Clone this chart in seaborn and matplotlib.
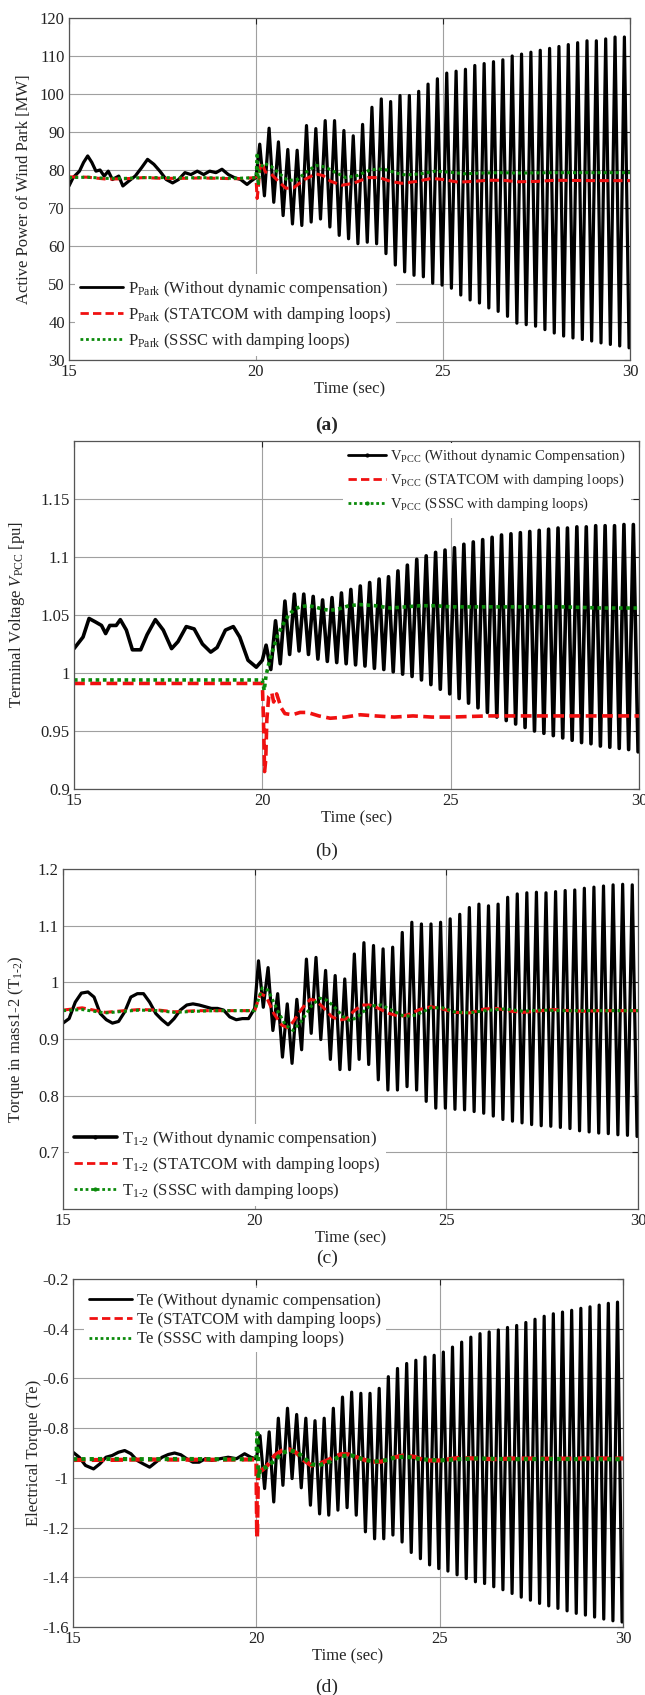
import numpy as np
import pandas as pd
import matplotlib
matplotlib.use("Agg")
import matplotlib.pyplot as plt
import seaborn as sns
from matplotlib.lines import Line2D

# ---------------------------------------------------------------------------
# Data (time in seconds)
# ---------------------------------------------------------------------------
# Oscillation after the disturbance at t = 20 s: one maximum and one minimum
# per 0.25 s cycle of the uncompensated response.
CYCLE = 0.25

# (a) Active power of the wind park [MW]
p_pre_t = [15.0, 15.11, 15.28, 15.39, 15.50, 15.61, 15.72, 15.83, 15.94, 16.05, 16.16,
           16.33, 16.44, 16.60, 16.77, 16.94, 17.10, 17.27, 17.43, 17.60, 17.77, 17.93,
           18.10, 18.26, 18.43, 18.60, 18.76, 18.93, 19.09, 19.26, 19.42, 19.59, 19.76,
           19.87, 20.0]
p_pre_v = [75.8, 78.0, 79.7, 82.0, 83.7, 82.0, 79.7, 80.0, 78.4, 79.7, 77.5,
           78.4, 75.8, 77.1, 78.4, 80.6, 82.8, 81.5, 79.7, 77.5, 76.6, 77.5,
           79.3, 78.8, 79.7, 78.8, 79.7, 79.3, 80.2, 78.8, 78.0, 77.5, 76.2,
           77.1, 78.0]
p_tops = [86.8, 91.0, 87.4, 85.4, 85.2, 91.7, 90.9, 93.0, 93.0, 90.4,
          89.0, 92.0, 96.5, 98.7, 98.0, 99.6, 99.6, 100.7, 102.6, 104.0,
          105.5, 106.0, 106.5, 107.5, 108.0, 108.5, 109.0, 110.0, 110.5, 111.0,
          111.5, 112.0, 112.5, 113.0, 113.5, 114.0, 114.0, 114.5, 115.0, 115.0]
p_bottoms = [73.2, 71.5, 68.0, 65.8, 65.4, 66.3, 67.1, 65.0, 62.8, 61.9,
             60.6, 61.0, 60.6, 58.0, 55.0, 53.2, 52.3, 51.9, 50.2, 49.7,
             48.9, 47.1, 45.8, 45.0, 43.7, 42.8, 41.5, 39.7, 39.3, 38.9,
             38.0, 37.1, 36.3, 35.8, 35.4, 35.0, 34.5, 34.1, 33.7, 33.2]
p_statcom_t = [15, 15.5, 16, 16.5, 17, 17.5, 18, 18.5, 19, 19.5, 20.0, 20.03, 20.06, 20.1,
               20.15, 20.25, 20.4, 20.6, 20.8, 21.0, 21.3, 21.6, 21.8, 22.0, 22.3, 22.6,
               23.0, 23.3, 23.6, 23.9, 24.3, 24.7, 25.0, 25.4, 25.8, 26.2, 26.6, 27.0,
               27.5, 28.0, 29.0, 30.0]
p_statcom_v = [78.2, 78.1, 77.6, 77.7, 78.0, 77.8, 77.8, 77.9, 77.8, 77.7, 78.0, 72.5, 75.0, 80.0,
               82.0, 79.5, 79.0, 77.0, 75.2, 75.3, 77.5, 79.0, 78.5, 77.0, 76.0, 76.5,
               78.0, 78.0, 77.0, 76.5, 77.0, 77.8, 77.5, 76.8, 77.0, 77.3, 77.3, 76.9,
               77.0, 77.3, 77.2, 77.2]
p_sssc_t = [15, 15.5, 16, 16.5, 17, 17.5, 18, 18.5, 19, 19.5, 20.0, 20.03, 20.06, 20.1,
            20.2, 20.4, 20.6, 20.85, 21.1, 21.35, 21.6, 21.85, 22.1, 22.4, 22.7, 23.0,
            23.25, 23.5, 23.75, 24.0, 24.4, 24.8, 25.2, 25.6, 26.0, 26.5, 27.0, 28.0,
            29.0, 30.0]
p_sssc_v = [78.0, 78.1, 77.8, 77.8, 78.0, 78.0, 77.9, 78.0, 77.9, 77.8, 78.0, 84.5, 76.0, 80.0,
            81.8, 81.0, 79.3, 77.2, 77.5, 79.5, 81.2, 80.8, 79.5, 78.0, 78.5, 79.8,
            80.3, 80.0, 79.2, 78.7, 79.0, 79.7, 79.4, 79.0, 79.2, 79.3, 79.2, 79.3,
            79.3, 79.3]

# (b) Terminal voltage V_PCC [pu]
v_pre_t = [15.0, 15.24, 15.40, 15.57, 15.73, 15.84, 15.95, 16.12, 16.23, 16.39,
           16.55, 16.77, 16.94, 17.16, 17.37, 17.59, 17.76, 17.98, 18.19, 18.41,
           18.63, 18.80, 19.02, 19.23, 19.40, 19.62, 19.84, 20.0]
v_pre_v = [1.021, 1.031, 1.047, 1.044, 1.041, 1.034, 1.041, 1.041, 1.046, 1.037,
           1.020, 1.020, 1.033, 1.046, 1.037, 1.021, 1.027, 1.040, 1.038, 1.025,
           1.018, 1.022, 1.037, 1.040, 1.031, 1.011, 1.005, 1.011]
v_tops = [1.024, 1.045, 1.062, 1.068, 1.068, 1.066, 1.063, 1.065, 1.069, 1.072,
          1.075, 1.078, 1.081, 1.083, 1.088, 1.093, 1.098, 1.101, 1.104, 1.106,
          1.108, 1.111, 1.113, 1.115, 1.117, 1.119, 1.120, 1.121, 1.122, 1.123,
          1.124, 1.125, 1.125, 1.126, 1.126, 1.127, 1.127, 1.127, 1.128, 1.128]
v_bottoms = [1.003, 1.008, 1.016, 1.019, 1.016, 1.012, 1.010, 1.009, 1.008, 1.007,
             1.006, 1.004, 1.003, 1.001, 0.999, 0.997, 0.994, 0.990, 0.986, 0.982,
             0.978, 0.974, 0.970, 0.966, 0.962, 0.959, 0.956, 0.953, 0.950, 0.948,
             0.946, 0.944, 0.942, 0.940, 0.939, 0.937, 0.936, 0.935, 0.934, 0.932]
v_statcom_t = [15, 16, 17, 18, 19, 20.0, 20.03, 20.06, 20.09, 20.12, 20.17, 20.25, 20.3,
               20.38, 20.5, 20.6, 20.8, 21.0, 21.2, 21.5, 21.8, 22.2, 22.6, 23.0, 23.5,
               24.0, 24.5, 25.0, 26.0, 27.0, 28.0, 29.0, 30.0]
v_statcom_v = [0.991, 0.991, 0.991, 0.991, 0.991, 0.991, 0.960, 0.915, 0.925, 0.960, 0.980,
               0.983, 0.975, 0.982, 0.970, 0.965, 0.964, 0.966, 0.966, 0.963, 0.961, 0.962,
               0.964, 0.963, 0.962, 0.963, 0.962, 0.962, 0.963, 0.963, 0.963, 0.963, 0.963]
v_sssc_t = [15, 16, 17, 18, 19, 20.0, 20.05, 20.1, 20.2, 20.3, 20.4, 20.55, 20.7, 20.85,
            21.0, 21.2, 21.4, 21.6, 21.8, 22.0, 22.3, 22.6, 23.0, 23.4, 23.8, 24.2, 24.6,
            25.0, 26.0, 27.0, 28.0, 29.0, 30.0]
v_sssc_v = [0.994, 0.994, 0.994, 0.994, 0.994, 0.994, 0.985, 0.998, 1.012, 1.022, 1.032,
            1.042, 1.050, 1.055, 1.057, 1.058, 1.057, 1.055, 1.054, 1.055, 1.058, 1.059,
            1.058, 1.056, 1.057, 1.058, 1.058, 1.057, 1.057, 1.057, 1.057, 1.056, 1.056]

# (c) Shaft torque between mass 1 and mass 2
t_pre_t = [15.0, 15.16, 15.32, 15.48, 15.65, 15.81, 15.97, 16.13, 16.29, 16.45,
           16.61, 16.77, 16.94, 17.10, 17.26, 17.42, 17.58, 17.74, 17.90, 18.06,
           18.23, 18.39, 18.55, 18.71, 18.87, 19.03, 19.19, 19.35, 19.52, 19.68,
           19.84, 20.0]
t_pre_v = [0.928, 0.936, 0.965, 0.981, 0.983, 0.974, 0.945, 0.934, 0.928, 0.931,
           0.948, 0.974, 0.980, 0.980, 0.965, 0.945, 0.934, 0.925, 0.936, 0.951,
           0.960, 0.962, 0.960, 0.957, 0.954, 0.954, 0.951, 0.939, 0.934, 0.936,
           0.936, 0.954]
t_tops = [1.038, 1.026, 0.980, 0.962, 0.970, 1.041, 1.044, 1.021, 1.012, 1.006,
          1.050, 1.070, 1.065, 1.059, 1.062, 1.088, 1.106, 1.103, 1.103, 1.106,
          1.112, 1.120, 1.132, 1.138, 1.135, 1.138, 1.150, 1.156, 1.158, 1.159,
          1.158, 1.160, 1.162, 1.163, 1.166, 1.168, 1.170, 1.172, 1.173, 1.172]
t_bottoms = [0.956, 0.915, 0.868, 0.857, 0.881, 0.910, 0.899, 0.864, 0.846, 0.846,
             0.864, 0.855, 0.828, 0.810, 0.810, 0.816, 0.810, 0.790, 0.778, 0.778,
             0.776, 0.775, 0.772, 0.769, 0.764, 0.758, 0.755, 0.752, 0.749, 0.747,
             0.746, 0.744, 0.742, 0.738, 0.736, 0.734, 0.733, 0.731, 0.730, 0.728]
t_statcom_t = [15, 15.5, 16.1, 16.6, 17.0, 17.5, 17.9, 18.5, 19.0, 19.5, 20.0, 20.15,
               20.3, 20.5, 20.7, 20.85, 21.0, 21.25, 21.45, 21.6, 21.8, 22.0, 22.2, 22.4,
               22.6, 22.8, 23.0, 23.2, 23.5, 23.8, 24.0, 24.3, 24.6, 24.9, 25.2, 25.6,
               26.0, 26.3, 26.7, 27.0, 27.5, 27.8, 28.2, 28.6, 29.0, 30.0]
t_statcom_v = [0.951, 0.955, 0.947, 0.950, 0.952, 0.951, 0.948, 0.950, 0.950, 0.950, 0.950,
               0.980, 0.975, 0.945, 0.925, 0.920, 0.930, 0.955, 0.970, 0.968, 0.955, 0.940,
               0.933, 0.936, 0.950, 0.960, 0.960, 0.955, 0.945, 0.940, 0.943, 0.952, 0.957,
               0.953, 0.947, 0.946, 0.953, 0.954, 0.949, 0.947, 0.950, 0.952, 0.950, 0.949,
               0.950, 0.950]
t_sssc_t = [15, 15.5, 16.1, 16.6, 17.0, 17.5, 17.9, 18.5, 19.0, 19.5, 20.0, 20.2, 20.35,
            20.6, 20.8, 21.0, 21.2, 21.5, 21.7, 21.9, 22.1, 22.3, 22.5, 22.7, 23.0, 23.3,
            23.6, 23.9, 24.2, 24.6, 24.9, 25.2, 25.6, 26.0, 26.5, 27.0, 27.5, 28.0, 29.0,
            30.0]
t_sssc_v = [0.950, 0.952, 0.946, 0.949, 0.951, 0.950, 0.947, 0.949, 0.950, 0.950, 0.950,
            0.990, 0.986, 0.950, 0.925, 0.915, 0.930, 0.960, 0.972, 0.968, 0.955, 0.940,
            0.932, 0.940, 0.958, 0.960, 0.950, 0.940, 0.942, 0.955, 0.955, 0.948, 0.946,
            0.950, 0.953, 0.949, 0.951, 0.950, 0.950, 0.950]

# (d) Electrical torque
e_pre_t = [15.0, 15.17, 15.34, 15.56, 15.73, 15.90, 16.07, 16.24, 16.41, 16.58,
           16.75, 16.92, 17.09, 17.26, 17.43, 17.60, 17.77, 17.94, 18.10, 18.27,
           18.44, 18.61, 18.78, 19.01, 19.23, 19.46, 19.68, 19.85, 20.0]
e_pre_v = [-0.897, -0.917, -0.950, -0.964, -0.944, -0.917, -0.910, -0.897, -0.890, -0.903,
           -0.930, -0.944, -0.957, -0.937, -0.917, -0.906, -0.900, -0.907, -0.923, -0.937,
           -0.937, -0.923, -0.930, -0.923, -0.917, -0.923, -0.903, -0.917, -0.924]
e_tops = [-0.830, -0.815, -0.760, -0.720, -0.745, -0.760, -0.770, -0.760, -0.720, -0.675,
          -0.655, -0.660, -0.660, -0.640, -0.593, -0.560, -0.540, -0.527, -0.514, -0.507,
          -0.494, -0.474, -0.454, -0.434, -0.420, -0.413, -0.405, -0.395, -0.387, -0.375,
          -0.362, -0.350, -0.340, -0.333, -0.326, -0.318, -0.312, -0.305, -0.298, -0.293]
e_bottoms = [-1.043, -1.097, -1.030, -1.003, -1.040, -1.110, -1.145, -1.150, -1.130, -1.120,
             -1.150, -1.217, -1.245, -1.245, -1.230, -1.258, -1.300, -1.325, -1.350, -1.365,
             -1.375, -1.390, -1.405, -1.418, -1.425, -1.438, -1.450, -1.465, -1.480, -1.492,
             -1.505, -1.515, -1.525, -1.535, -1.545, -1.552, -1.560, -1.568, -1.575, -1.580]
e_statcom_t = [15, 16, 17, 18, 19, 20.0, 20.02, 20.05, 20.15, 20.3, 20.5, 20.7, 20.9, 21.1,
               21.3, 21.5, 21.7, 22.0, 22.3, 22.5, 22.8, 23.1, 23.4, 23.7, 24.0, 24.3, 24.6,
               25.0, 25.5, 26.0, 26.5, 27.0, 28.0, 29.0, 30.0]
e_statcom_v = [-0.928, -0.928, -0.926, -0.927, -0.927, -0.926, -1.240, -0.950, -0.970, -0.950,
               -0.910, -0.890, -0.885, -0.900, -0.930, -0.950, -0.945, -0.925, -0.905, -0.905,
               -0.920, -0.935, -0.935, -0.920, -0.910, -0.915, -0.930, -0.930, -0.920, -0.922,
               -0.925, -0.922, -0.923, -0.922, -0.922]
e_sssc_t = [15, 16, 17, 18, 19, 20.0, 20.03, 20.06, 20.1, 20.3, 20.5, 20.7, 20.9, 21.1, 21.3,
            21.5, 21.7, 22.0, 22.3, 22.6, 22.9, 23.2, 23.5, 23.8, 24.1, 24.5, 25.0, 25.5,
            26.0, 27.0, 28.0, 29.0, 30.0]
e_sssc_v = [-0.925, -0.924, -0.925, -0.924, -0.925, -0.925, -0.820, -1.000, -0.965, -0.955,
            -0.930, -0.900, -0.890, -0.895, -0.920, -0.945, -0.950, -0.935, -0.912, -0.910,
            -0.925, -0.935, -0.930, -0.917, -0.915, -0.925, -0.930, -0.925, -0.922, -0.925,
            -0.924, -0.925, -0.925]

x_ticks = [15, 20, 25, 30]

# ---------------------------------------------------------------------------
# Styling
# ---------------------------------------------------------------------------
sns.set_theme(style="white")
plt.rcParams["font.family"] = ["Liberation Serif", "DejaVu Serif"]
plt.rcParams["mathtext.fontset"] = "custom"
plt.rcParams["mathtext.rm"] = "Liberation Serif"
plt.rcParams["mathtext.it"] = "Liberation Serif:italic"
plt.rcParams["mathtext.bf"] = "Liberation Serif:bold"

BLACK = "#000000"
RED = "#f01010"
GREEN = "#0a8a0a"
FS = 12

W, H = 645, 1695
fig = plt.figure(figsize=(W / 100, H / 100), dpi=100)


def add_axes(left, right, top, bottom):
    return fig.add_axes([left / W, 1 - bottom / H, (right - left) / W, (bottom - top) / H])


def uncompensated(pre_t, pre_v, tops, bottoms):
    k = np.arange(len(tops))
    t_osc = np.column_stack([20.1 + CYCLE * k, 20.1 + CYCLE * (k + 0.5)]).ravel()
    v_osc = np.column_stack([tops, bottoms]).ravel()
    return pd.DataFrame({"t": np.concatenate([pre_t, t_osc]),
                         "v": np.concatenate([pre_v, v_osc])})


def trace(ax, t, v, **kw):
    df = pd.DataFrame({"t": t, "v": v})
    sns.lineplot(data=df, x="t", y="v", ax=ax, estimator=None, sort=False, **kw)


def style(ax, ylim, yticks, ylabels, ylabel, px, ylab_x):
    ax.set_xlim(15, 30)
    ax.set_ylim(*ylim)
    ax.set_xticks(x_ticks)
    ax.set_xticklabels([str(x) for x in x_ticks])
    ax.set_yticks(yticks)
    ax.set_yticklabels(ylabels)
    ax.grid(True, color="#a0a0a0", lw=0.8)
    ax.set_axisbelow(True)
    ax.tick_params(direction="in", length=4, width=0.8, top=True, right=True,
                   labelsize=FS, colors="#222222", pad=3)
    for s in ax.spines.values():
        s.set_color("#555555")
        s.set_linewidth(0.9)
    w_px, h_px = px
    ax.set_xlabel("Time (sec)", fontsize=FS)
    ax.xaxis.set_label_coords(0.5, -21 / h_px)
    ax.set_ylabel(ylabel, fontsize=FS)
    ax.yaxis.set_label_coords(ylab_x, 0.5)


def legend(ax, handles, labels, fs=FS, **kw):
    leg = ax.legend(handles, labels, frameon=True, facecolor="white", edgecolor="none",
                    framealpha=1, fontsize=fs, handlelength=2.6, handletextpad=0.3,
                    borderaxespad=0, **kw)
    leg.get_frame().set_boxstyle("square", pad=0)
    return leg


def handle(color, ls, marker=None, lw=2.0):
    return Line2D([], [], color=color, ls=ls, lw=lw, marker=marker, ms=4)


DASH = (0, (3, 1.5))
DOT = (0, (1, 1))
OSC_LW = 2.3

# ----------------------------- (a) ----------------------------------------
ax = add_axes(69, 630, 18, 360)
d = uncompensated(p_pre_t, p_pre_v, p_tops, p_bottoms)
trace(ax, d["t"], d["v"], color=BLACK, lw=OSC_LW)
trace(ax, p_statcom_t, p_statcom_v, color=RED, lw=2.2, linestyle=DASH)
trace(ax, p_sssc_t, p_sssc_v, color=GREEN, lw=2.2, linestyle=DOT)
style(ax, (30, 120), list(range(30, 121, 10)), [str(v) for v in range(30, 121, 10)],
      "Active Power of Wind Park [MW]", (561, 342), (32 - 69) / 561)
legend(ax,
       [handle(BLACK, "-"), handle(RED, DASH), handle(GREEN, DOT)],
       [r"P$_{\mathrm{Park}}$ (Without dynamic compensation)",
        r"P$_{\mathrm{Park}}$ (STATCOM with damping loops)",
        r"P$_{\mathrm{Park}}$ (SSSC with damping loops)"],
       loc="lower left", bbox_to_anchor=(0.01, 0.012), labelspacing=0.35, borderpad=0.3)
fig.text(327 / W, 1 - 425 / H, "(a)", ha="center", va="center", fontsize=14, fontweight="bold")

# ----------------------------- (b) ----------------------------------------
ax = add_axes(74, 639, 441, 789)
d = uncompensated(v_pre_t, v_pre_v, v_tops, v_bottoms)
trace(ax, d["t"], d["v"], color=BLACK, lw=2.6)
trace(ax, v_statcom_t, v_statcom_v, color=RED, lw=2.6, linestyle=DASH)
trace(ax, v_sssc_t, v_sssc_v, color=GREEN, lw=2.6, linestyle=DOT)
style(ax, (0.9, 1.2), [0.9, 0.95, 1.0, 1.05, 1.1, 1.15],
      ["0.9", "0.95", "1", "1.05", "1.1", "1.15"],
      r"Terminal Voltage $V_{\mathrm{PCC}}$ [pu]", (565, 348), (27 - 74) / 565)
legend(ax,
       [handle(BLACK, "-", "."), handle(RED, DASH), handle(GREEN, DOT, ".")],
       [r"V$_{\mathrm{PCC}}$ (Without dynamic Compensation)",
        r"V$_{\mathrm{PCC}}$ (STATCOM with damping loops)",
        r"V$_{\mathrm{PCC}}$ (SSSC with damping loops)"],
       fs=10.5, loc="upper right", bbox_to_anchor=(0.985, 0.995),
       labelspacing=0.45, borderpad=0.35)
fig.text(327 / W, 1 - 851 / H, "(b)", ha="center", va="center", fontsize=14)

# ----------------------------- (c) ----------------------------------------
ax = add_axes(63, 638, 869, 1209)
d = uncompensated(t_pre_t, t_pre_v, t_tops, t_bottoms)
trace(ax, d["t"], d["v"], color=BLACK, lw=OSC_LW)
trace(ax, t_statcom_t, t_statcom_v, color=RED, lw=2.2, linestyle=DASH)
trace(ax, t_sssc_t, t_sssc_v, color=GREEN, lw=2.2, linestyle=DOT)
style(ax, (0.6, 1.2), [0.7, 0.8, 0.9, 1.0, 1.1, 1.2],
      ["0.7", "0.8", "0.9", "1", "1.1", "1.2"],
      r"Torque in mass1-2 (T$_{1\text{-}2}$)", (575, 340), (26 - 63) / 575)
legend(ax,
       [handle(BLACK, "-", ".", 2.6), handle(RED, DASH), handle(GREEN, DOT, ".")],
       [r"T$_{1\text{-}2}$ (Without dynamic compensation)",
        r"T$_{1\text{-}2}$ (STATCOM with damping loops)",
        r"T$_{1\text{-}2}$ (SSSC with damping loops)"],
       loc="lower left", bbox_to_anchor=(0.01, 0.01), labelspacing=0.35, borderpad=0.3)
fig.text(327 / W, 1 - 1258 / H, "(c)", ha="center", va="center", fontsize=14)

# ----------------------------- (d) ----------------------------------------
ax = add_axes(73, 623, 1279, 1627)
d = uncompensated(e_pre_t, e_pre_v, e_tops, e_bottoms)
trace(ax, d["t"], d["v"], color=BLACK, lw=OSC_LW)
trace(ax, e_statcom_t, e_statcom_v, color=RED, lw=3.0, linestyle=DASH)
trace(ax, e_sssc_t, e_sssc_v, color=GREEN, lw=3.0, linestyle=DOT)
yt = [-1.6, -1.4, -1.2, -1.0, -0.8, -0.6, -0.4, -0.2]
style(ax, (-1.6, -0.2), yt, ["-1.6", "-1.4", "-1.2", "-1", "-0.8", "-0.6", "-0.4", "-0.2"],
      "Electrical Torque (Te)", (550, 348), (42 - 73) / 550)
legend(ax,
       [handle(BLACK, "-"), handle(RED, DASH), handle(GREEN, DOT)],
       ["Te (Without dynamic compensation)",
        "Te (STATCOM with damping loops)",
        "Te (SSSC with damping loops)"],
       loc="upper left", bbox_to_anchor=(0.02, 0.975), labelspacing=0.2, borderpad=0.3)
fig.text(327 / W, 1 - 1687 / H, "(d)", ha="center", va="center", fontsize=14)

fig.savefig("out.png", dpi=100, facecolor="white")
